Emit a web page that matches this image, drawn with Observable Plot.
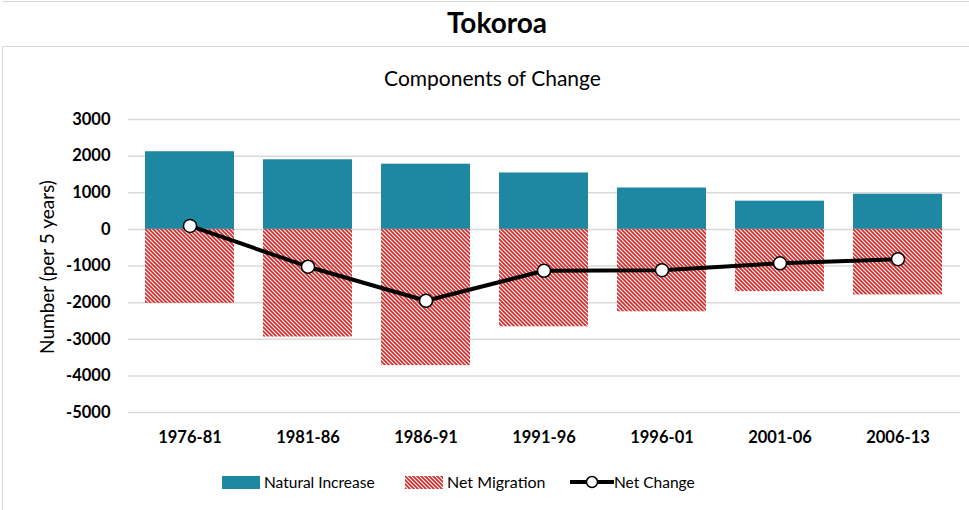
<!DOCTYPE html>
<html><head><meta charset="utf-8">
<script src="https://cdn.jsdelivr.net/npm/d3@7"></script>
<script src="https://cdn.jsdelivr.net/npm/@observablehq/plot@0.6"></script>
<style>
body{margin:0;background:#fff;}
#wrap{position:relative;width:969px;height:510px;overflow:hidden;font-family:Lato,"Open Sans",sans-serif;color:#000;background:#fff;}
#topline{position:absolute;left:2px;top:1px;width:980px;height:0;border-top:1.5px solid #d9d9d9;}
#title{position:absolute;left:0;top:5px;width:994px;text-align:center;font-size:28px;font-weight:bold;line-height:34px;}
#box{position:absolute;left:2px;top:46px;width:990px;height:480px;border:1.5px solid #d9d9d9;}
#subtitle{position:absolute;left:0;top:65px;width:985px;text-align:center;font-size:21px;line-height:26px;}
#ylabel{position:absolute;left:0;top:0;}
#chart{position:absolute;left:0;top:100px;}
.lg{position:absolute;top:472px;font-size:15.5px;line-height:20px;white-space:nowrap;}
.sw{position:absolute;}
</style></head><body>
<div id="wrap">
  <div id="topline"></div>
  <div id="title">Tokoroa</div>
  <div id="box"></div>
  <div id="subtitle">Components of Change</div>
  <svg id="ylabel" width="90" height="510"><text transform="translate(46,267) rotate(-90)" text-anchor="middle" dominant-baseline="central" font-family="Lato, 'Open Sans', sans-serif" font-size="19">Number (per 5 years)</text></svg>
  <div id="chart"></div>
  <svg class="sw" style="left:222px;top:476px" width="38" height="13"><rect width="38" height="13" fill="#1e88a3"/></svg>
  <div class="lg" style="left:264px">Natural Increase</div>
  <svg class="sw" style="left:405px;top:476px" width="38" height="13">
    <defs><pattern id="hatchL" width="4" height="4" patternUnits="userSpaceOnUse"><path d="M-1,-1L5,5M-1,3L1,5M3,-1L5,1" stroke="#d62a2a" stroke-width="1.7"/></pattern></defs>
    <rect width="38" height="13" fill="url(#hatchL)"/></svg>
  <div class="lg" style="left:447px;font-size:16px">Net Migration</div>
  <svg class="sw" style="left:570px;top:474px" width="44" height="16"><line x1="0" x2="44" y1="8" y2="8" stroke="#000" stroke-width="4"/><circle cx="22" cy="8" r="5.5" fill="#fff" stroke="#000" stroke-width="1.5"/></svg>
  <div class="lg" style="left:614px">Net Change</div>
</div>
<script>
const periods = ["1976-81","1981-86","1986-91","1991-96","1996-01","2001-06","2006-13"];
const naturalIncrease = [2120, 1900, 1780, 1540, 1130, 770, 960];
const netMigration = [-2020, -2940, -3720, -2660, -2250, -1700, -1790];
const netChange = [95, -1020, -1950, -1130, -1115, -925, -815];
const yTicks = [3000, 2000, 1000, 0, -1000, -2000, -3000, -4000, -5000];

const rows = periods.map((p, i) => ({period: p, natural: naturalIncrease[i], migration: netMigration[i], change: netChange[i]}));

const plot = Plot.plot({
  width: 969, height: 355,
  marginTop: 19, marginBottom: 43, marginLeft: 128, marginRight: 9,
  style: {fontFamily: "Lato, 'Open Sans', sans-serif", fontSize: "16.5px", fontWeight: "bold", color: "#000", background: "transparent", overflow: "visible"},
  x: {domain: periods, paddingInner: 0.245, paddingOuter: 0.135, label: null, tickSize: 0, tickPadding: 19},
  y: {domain: [-5000, 3000], ticks: yTicks, label: null, tickSize: 0, tickPadding: 18, tickFormat: d => String(d)},
  marks: [
    Plot.ruleY(yTicks, {stroke: "#d9d9d9", strokeWidth: 1.5}),
    Plot.barY(rows, {x: "period", y: "natural", fill: "#1e88a3"}),
    Plot.barY(rows, {x: "period", y: "migration", fill: "url(#hatch)"}),
    Plot.line(rows, {x: "period", y: "change", stroke: "#000", strokeWidth: 4}),
    Plot.dot(rows, {x: "period", y: "change", r: 6.5, fill: "#fff", stroke: "#000", strokeWidth: 1.5})
  ]
});
d3.select(plot).insert("defs", ":first-child").html(
  '<pattern id="hatch" width="4" height="4" patternUnits="userSpaceOnUse"><path d="M-1,-1L5,5M-1,3L1,5M3,-1L5,1" stroke="#d62a2a" stroke-width="1.7"/></pattern>'
);
document.getElementById("chart").appendChild(plot);
</script>
</body></html>
